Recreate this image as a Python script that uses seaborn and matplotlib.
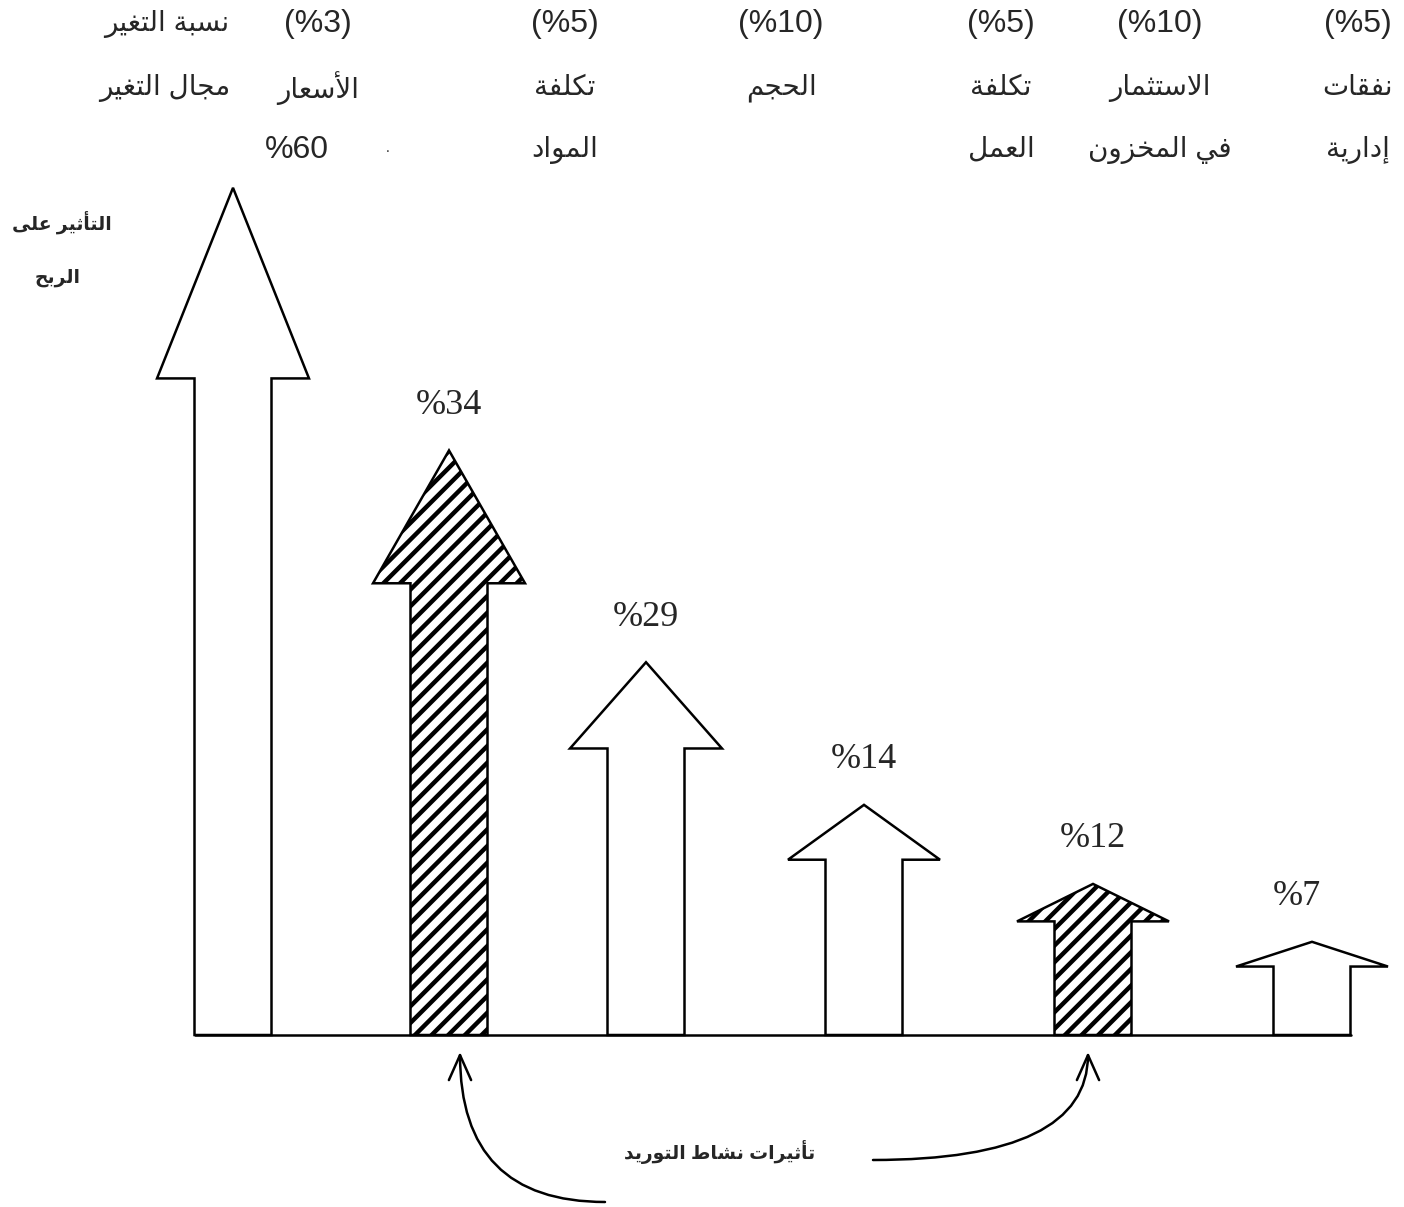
import matplotlib
matplotlib.use("Agg")
import matplotlib.pyplot as plt
import seaborn as sns
from matplotlib.patches import Polygon

# data
categories = ["الأسعار", "تكلفة\nالمواد", "الحجم", "تكلفة\nالعمل", "الاستثمار\nفي المخزون", "نفقات\nإدارية"]
change_pct = [3, 5, 10, 5, 10, 5]
profit_impact = [60, 34, 29, 14, 12, 7]
# arrows in the source are not drawn to scale, heights read off the picture
arrow_height = [60, 41.4, 26.4, 16.3, 10.7, 6.6]
supply_effect = [False, True, False, False, True, False]

header_title = ["نسبة التغير", "مجال التغير"]
y_label = ["التأثير على", "الربح"]
supply_label = "تأثيرات نشاط التوريد"

# simple arabic shaping (matplotlib has no bidi / joining)
_ar = {'ا': (0xFE8D, 0), 'أ': (0xFE83, 0), 'إ': (0xFE87, 0), 'آ': (0xFE81, 0),
       'ب': (0xFE8F, 1), 'ة': (0xFE93, 0), 'ت': (0xFE95, 1), 'ث': (0xFE99, 1),
       'ج': (0xFE9D, 1), 'ح': (0xFEA1, 1), 'خ': (0xFEA5, 1), 'د': (0xFEA9, 0),
       'ذ': (0xFEAB, 0), 'ر': (0xFEAD, 0), 'ز': (0xFEAF, 0), 'س': (0xFEB1, 1),
       'ش': (0xFEB5, 1), 'ط': (0xFEC1, 1), 'ع': (0xFEC9, 1), 'غ': (0xFECD, 1),
       'ف': (0xFED1, 1), 'ق': (0xFED5, 1), 'ك': (0xFED9, 1), 'ل': (0xFEDD, 1),
       'م': (0xFEE1, 1), 'ن': (0xFEE5, 1), 'ه': (0xFEE9, 1), 'و': (0xFEED, 0),
       'ى': (0xFEEF, 0), 'ي': (0xFEF1, 1)}
_lamalef = {'آ': 0xFEF5, 'أ': 0xFEF7, 'إ': 0xFEF9, 'ا': 0xFEFB}


def ar(text):
    lines = []
    for line in text.split("\n"):
        toks = []
        i = 0
        while i < len(line):
            c = line[i]
            if c == 'ل' and i + 1 < len(line) and line[i + 1] in _lamalef:
                toks.append((_lamalef[line[i + 1]], 0))
                i += 2
                continue
            toks.append(_ar.get(c, c))
            i += 1
        out = []
        for k, t in enumerate(toks):
            if isinstance(t, str):
                out.append(t)
                continue
            base, dual = t
            prev = toks[k - 1] if k > 0 else None
            nxt = toks[k + 1] if k + 1 < len(toks) else None
            jp = isinstance(prev, tuple) and prev[1] == 1
            jn = dual == 1 and isinstance(nxt, tuple)
            off = 3 if (jp and jn) else 1 if jp else 2 if jn else 0
            out.append(chr(base + off))
        lines.append("".join(out)[::-1])
    return "\n".join(lines)


W, H = 1404, 1207
sns.set_theme(style="white")
plt.rcParams['font.family'] = ['Liberation Sans', 'DejaVu Sans']
plt.rcParams['hatch.linewidth'] = 3.2
plt.rcParams['hatch.color'] = 'black'

fig = plt.figure(figsize=(W / 100, H / 100), dpi=100)
ax = fig.add_axes([0, 0, 1, 1])
px_per_unit = 14.12
ax.set_ylim(-(H - 1035) / px_per_unit, 1035 / px_per_unit)
ax.set_xlim(0, W)
ax.axis('off')


def ftext(x, y, s, **kw):
    fig.text(x / W, 1 - y / H, s, ha='center', va='center', **kw)


# arrows (x layout in pixels)
arrow_x = [233, 449, 646, 864, 1093, 1312]
sw, hw = 38.5, 76
for i, h in enumerate(arrow_height):
    c = arrow_x[i]
    hl = 0.22 * h + 0.3
    pts = [(c - sw, 0), (c - sw, h - hl), (c - hw, h - hl), (c, h),
           (c + hw, h - hl), (c + sw, h - hl), (c + sw, 0)]
    ax.add_patch(Polygon(pts, closed=True, facecolor='white', edgecolor='black',
                         lw=1.8, hatch='//' if supply_effect[i] else None, zorder=3))
    if i > 0:
        lx = c - 15 if i == len(arrow_height) - 1 else c
        ax.text(lx, h + 3.2, f"%{profit_impact[i]}", ha='center', va='center',
                family='Liberation Serif', fontsize=26, zorder=4)

sns.lineplot(x=[arrow_x[0] - sw, arrow_x[-1] + sw], y=[0, 0], color='black', lw=1.8, ax=ax)

# header
col_x = [318, 565, 781, 1001, 1160, 1358]
rows_y = [24, 88, 150]
hfont = 23
afont = 20
ftext(167, rows_y[0], ar(header_title[0]), fontsize=afont)
ftext(165, rows_y[1], ar(header_title[1]), fontsize=afont)
for i, cat in enumerate(categories):
    ftext(col_x[i], rows_y[0], f"(%{change_pct[i]})", fontsize=hfont)
    parts = cat.split("\n")
    for j, p in enumerate(parts):
        ftext(col_x[i], rows_y[1 + j], ar(p), fontsize=afont)
ftext(297, rows_y[2], f"%{profit_impact[0]}", fontsize=hfont)
ftext(388, 148, ".", fontsize=10)

# y label
ftext(62, 222, ar(y_label[0]), fontsize=13.5, fontweight='bold')
ftext(58, 278, ar(y_label[1]), fontsize=13.5, fontweight='bold')

# supply effects
ftext(720, 1152, ar(supply_label), fontsize=13.5, fontweight='bold')
aprops = dict(arrowstyle='->,head_length=0.9,head_width=0.4', lw=1.8, color='black',
              shrinkA=0, shrinkB=0, mutation_scale=20)
ax.annotate("", xy=(460, H - 1052), xycoords='figure pixels',
            xytext=(605, H - 1202), textcoords='figure pixels',
            arrowprops=dict(connectionstyle='angle3,angleA=0,angleB=90', **aprops))
ax.annotate("", xy=(1088, H - 1052), xycoords='figure pixels',
            xytext=(873, H - 1160), textcoords='figure pixels',
            arrowprops=dict(connectionstyle='angle3,angleA=0,angleB=90', **aprops))

fig.savefig("out.png", dpi=100)
